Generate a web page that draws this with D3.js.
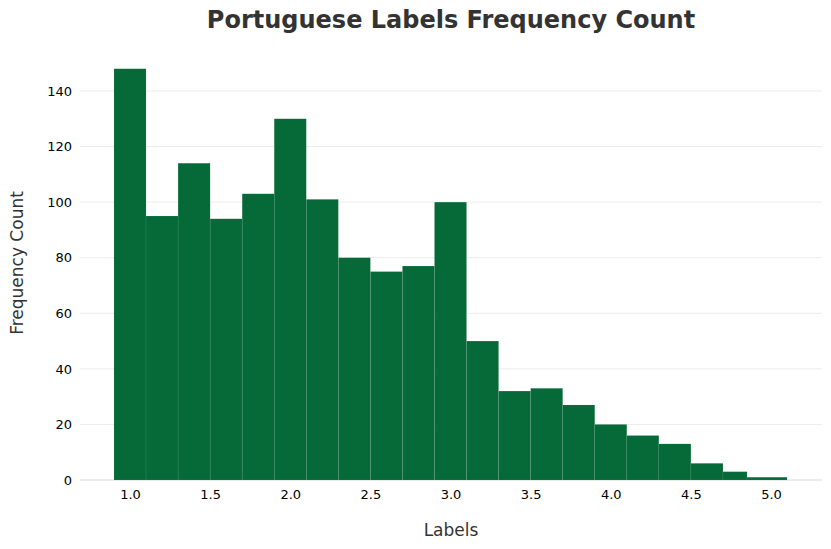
<!DOCTYPE html>
<html>
<head>
<meta charset="utf-8">
<script src="https://cdn.jsdelivr.net/npm/d3@7"></script>
<style>
  body { margin: 0; background: #fff; }
  svg text { font-family: "DejaVu Sans", sans-serif; }
</style>
</head>
<body>
<svg id="chart" width="831" height="549"></svg>
<script>
// histogram bins
const binStart = [0.9, 1.1, 1.3, 1.5, 1.7, 1.9, 2.1, 2.3, 2.5, 2.7, 2.9, 3.1, 3.3, 3.5, 3.7, 3.9, 4.1, 4.3, 4.5, 4.7, 4.85];
const binEnd   = [1.1, 1.3, 1.5, 1.7, 1.9, 2.1, 2.3, 2.5, 2.7, 2.9, 3.1, 3.3, 3.5, 3.7, 3.9, 4.1, 4.3, 4.5, 4.7, 4.85, 5.1];
const counts   = [148, 95, 114, 94, 103, 130, 101, 80, 75, 77, 100, 50, 32, 33, 27, 20, 16, 13, 6, 3, 1];
const xTicks = [1.0, 1.5, 2.0, 2.5, 3.0, 3.5, 4.0, 4.5, 5.0];
const yTicks = [0, 20, 40, 60, 80, 100, 120, 140];

const svg = d3.select('#chart');
const plotLeft = 80, plotRight = 822, plotTop = 49.3, plotBottom = 480;

const x = d3.scaleLinear().domain([0.688, 5.318]).range([plotLeft, plotRight]);
const y = d3.scaleLinear().domain([0, 155]).range([plotBottom, plotTop]);

// gridlines
svg.append('g')
    .selectAll('line')
    .data(yTicks)
    .join('line')
    .attr('x1', plotLeft).attr('x2', plotRight)
    .attr('y1', d => y(d)).attr('y2', d => y(d))
    .attr('stroke', d => d === 0 ? '#d9d9d9' : '#ececec')
    .attr('stroke-width', 1);

const bins = counts.map((c, i) => ({ x0: binStart[i], x1: binEnd[i], n: c }));

svg.append('g')
    .selectAll('rect')
    .data(bins)
    .join('rect')
    .attr('x', d => x(d.x0))
    .attr('width', d => x(d.x1) - x(d.x0))
    .attr('y', d => y(d.n))
    .attr('height', d => y(0) - y(d.n))
    .attr('fill', '#066a38')
    .attr('stroke', 'rgba(255,255,255,0.1)')
    .attr('stroke-width', 0.6);

// y axis labels
const yAxis = svg.append('g')
    .attr('transform', `translate(${plotLeft - 8},0)`)
    .call(d3.axisLeft(y).tickValues(yTicks).tickSize(0).tickPadding(0));
yAxis.select('.domain').remove();
yAxis.selectAll('text').attr('font-size', 13).attr('fill', '#000');

// x axis labels
const xAxis = svg.append('g')
    .attr('transform', `translate(0,${plotBottom + 10})`)
    .call(d3.axisBottom(x).tickValues(xTicks).tickFormat(d3.format('.1f')).tickSize(0).tickPadding(0));
xAxis.select('.domain').remove();
xAxis.selectAll('text').attr('font-size', 13).attr('fill', '#000');

// titles
svg.append('text')
    .attr('x', 451).attr('y', 28)
    .attr('text-anchor', 'middle')
    .attr('font-size', 24).attr('font-weight', 'bold')
    .attr('fill', '#333')
    .text('Portuguese Labels Frequency Count');

svg.append('text')
    .attr('x', 451).attr('y', 536)
    .attr('text-anchor', 'middle')
    .attr('font-size', 17).attr('fill', '#333')
    .text('Labels');

svg.append('text')
    .attr('transform', 'translate(23,263) rotate(-90)')
    .attr('text-anchor', 'middle')
    .attr('font-size', 17).attr('fill', '#333')
    .text('Frequency Count');
</script>
</body>
</html>
